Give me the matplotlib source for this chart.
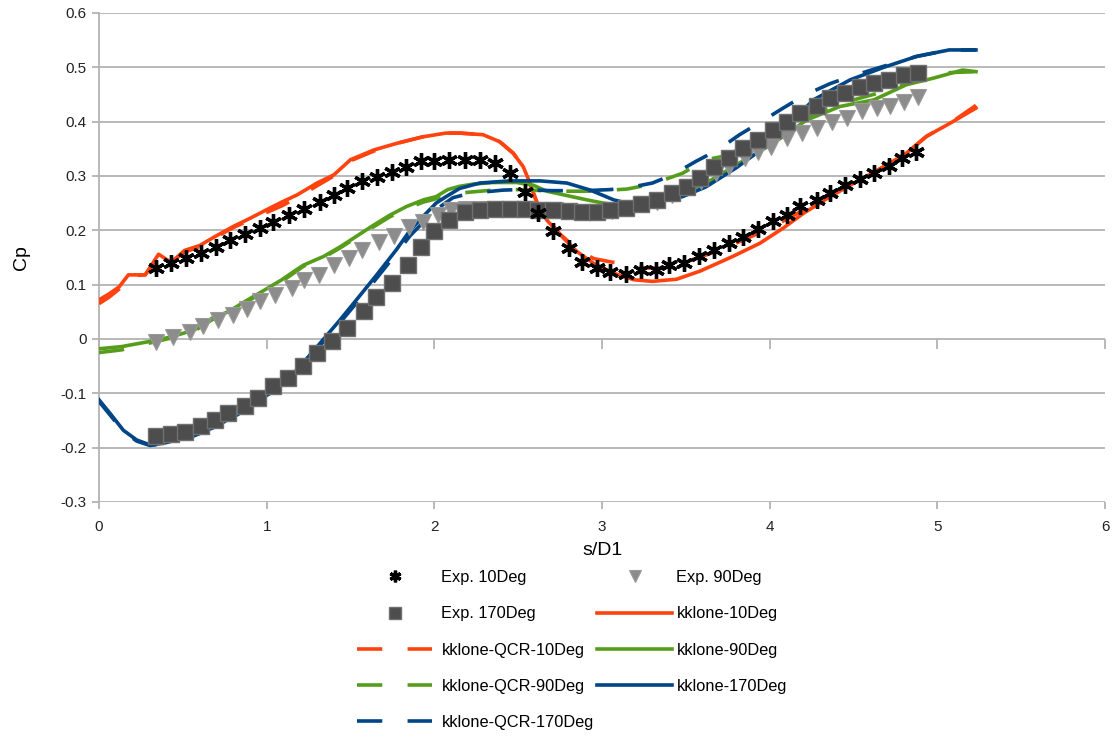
import matplotlib
matplotlib.use("Agg")
import matplotlib.pyplot as plt

plt.rcParams['font.family'] = ['Liberation Sans', 'DejaVu Sans']

# experiment, 10 deg
x_exp10 = [0.34, 0.43, 0.52, 0.61, 0.70, 0.78, 0.87, 0.96, 1.04, 1.13, 1.22, 1.32, 1.40, 1.48, 1.57,
           1.66, 1.75, 1.83, 1.92, 2.00, 2.09, 2.18, 2.27, 2.36, 2.45, 2.54, 2.62, 2.71, 2.80, 2.88,
           2.97, 3.05, 3.14, 3.23, 3.32, 3.40, 3.49, 3.58, 3.67, 3.76, 3.84, 3.93, 4.02, 4.10, 4.18,
           4.28, 4.36, 4.45, 4.54, 4.62, 4.71, 4.79, 4.875]
y_exp10 = [0.130, 0.139, 0.149, 0.158, 0.170, 0.182, 0.193, 0.204, 0.216, 0.228, 0.240, 0.253, 0.265, 0.277, 0.290,
           0.299, 0.308, 0.317, 0.327, 0.327, 0.330, 0.330, 0.330, 0.324, 0.305, 0.271, 0.231, 0.198, 0.167, 0.141,
           0.131, 0.124, 0.119, 0.127, 0.127, 0.136, 0.139, 0.152, 0.164, 0.176, 0.188, 0.203, 0.217, 0.229, 0.244,
           0.256, 0.268, 0.283, 0.294, 0.306, 0.318, 0.333, 0.345]

# experiment, 90 deg
x_exp90 = [0.34, 0.44, 0.54, 0.62, 0.71, 0.80, 0.88, 0.96, 1.05, 1.15, 1.22, 1.31, 1.40, 1.49, 1.57,
           1.67, 1.76, 1.85, 1.93, 2.02, 2.10, 2.19, 2.28, 2.37, 2.46, 2.54, 2.63, 2.72, 2.80, 2.89,
           2.98, 3.06, 3.15, 3.24, 3.33, 3.42, 3.51, 3.59, 3.68, 3.76, 3.85, 3.93, 4.01, 4.10, 4.19,
           4.28, 4.37, 4.46, 4.55, 4.64, 4.72, 4.80, 4.885]
y_exp90 = [-0.005, 0.003, 0.013, 0.023, 0.035, 0.044, 0.056, 0.069, 0.081, 0.093, 0.109, 0.118, 0.136, 0.149, 0.164,
           0.179, 0.190, 0.207, 0.216, 0.228, 0.237, 0.240, 0.240, 0.240, 0.240, 0.240, 0.238, 0.238, 0.236, 0.234,
           0.233, 0.236, 0.242, 0.248, 0.253, 0.265, 0.280, 0.290, 0.305, 0.317, 0.333, 0.345, 0.354, 0.370, 0.379,
           0.388, 0.400, 0.406, 0.419, 0.425, 0.429, 0.437, 0.446]

# experiment, 170 deg
x_exp170 = [0.34, 0.43, 0.51, 0.61, 0.69, 0.77, 0.87, 0.95, 1.04, 1.125, 1.215, 1.30, 1.39, 1.48, 1.58,
            1.65, 1.745, 1.845, 1.92, 2.00, 2.09, 2.18, 2.27, 2.36, 2.45, 2.54, 2.62, 2.71, 2.80, 2.88,
            2.97, 3.05, 3.14, 3.23, 3.325, 3.415, 3.505, 3.585, 3.67, 3.76, 3.84, 3.93, 4.02, 4.10, 4.18,
            4.28, 4.36, 4.45, 4.54, 4.62, 4.71, 4.80, 4.885]
y_exp170 = [-0.179, -0.175, -0.171, -0.161, -0.149, -0.137, -0.123, -0.109, -0.087, -0.071, -0.050, -0.025, -0.003, 0.021, 0.052,
            0.078, 0.103, 0.136, 0.170, 0.198, 0.219, 0.234, 0.238, 0.240, 0.240, 0.240, 0.238, 0.238, 0.236, 0.234,
            0.234, 0.237, 0.242, 0.248, 0.256, 0.268, 0.280, 0.296, 0.317, 0.333, 0.351, 0.366, 0.385, 0.400, 0.416,
            0.428, 0.443, 0.452, 0.463, 0.471, 0.477, 0.486, 0.490]

# kklone 10 deg
x_kk10 = [0, 0.06, 0.12, 0.175, 0.275, 0.355, 0.43, 0.51, 0.60, 0.70, 0.80, 0.90, 1.00, 1.09, 1.18,
          1.30, 1.40, 1.50, 1.64, 1.775, 1.93, 2.07, 2.15, 2.29, 2.39, 2.47, 2.53, 2.57, 2.61, 2.67,
          2.75, 2.85, 2.95, 3.07, 3.19, 3.30, 3.445, 3.585, 3.78, 3.94, 4.08, 4.20, 4.36, 4.52, 4.68,
          4.815, 4.935, 5.075, 5.23]
y_kk10 = [0.072, 0.083, 0.096, 0.118, 0.118, 0.156, 0.141, 0.163, 0.172, 0.19, 0.207, 0.222, 0.238, 0.252, 0.265,
          0.287, 0.302, 0.33, 0.348, 0.36, 0.372, 0.379, 0.379, 0.376, 0.363, 0.342, 0.317, 0.287, 0.253, 0.219,
          0.192, 0.161, 0.139, 0.121, 0.109, 0.106, 0.110, 0.125, 0.152, 0.176, 0.204, 0.231, 0.262, 0.29, 0.317,
          0.342, 0.373, 0.397, 0.425]

# kklone-QCR 10 deg
x_qcr10 = [0, 0.06, 0.12, 0.175, 0.275, 0.355, 0.43, 0.51, 0.60, 0.70, 0.80, 0.90, 1.00, 1.09, 1.18,
           1.30, 1.40, 1.50, 1.64, 1.775, 1.93, 2.07, 2.15, 2.29, 2.39, 2.47, 2.53, 2.57, 2.61, 2.67,
           2.75, 2.85, 2.95, 3.05, 3.15, 3.25, 3.35, 3.50, 3.70, 3.90, 4.05, 4.20, 4.40, 4.55, 4.68,
           4.815, 4.935, 5.075, 5.23]
y_qcr10 = [0.065, 0.077, 0.092, 0.116, 0.118, 0.152, 0.141, 0.16, 0.17, 0.188, 0.205, 0.219, 0.233, 0.245, 0.26,
           0.282, 0.30, 0.328, 0.346, 0.36, 0.372, 0.379, 0.379, 0.376, 0.363, 0.342, 0.317, 0.285, 0.252, 0.222,
           0.193, 0.165, 0.148, 0.142, 0.137, 0.131, 0.13, 0.142, 0.163, 0.19, 0.212, 0.237, 0.272, 0.295, 0.317,
           0.342, 0.373, 0.397, 0.43]

# kklone 90 deg
x_kk90 = [0, 0.135, 0.294, 0.433, 0.57, 0.672, 0.77, 0.87, 0.97, 1.09, 1.17, 1.22, 1.34, 1.44, 1.54,
          1.64, 1.735, 1.835, 1.934, 2.01, 2.08, 2.15, 2.23, 2.35, 2.49, 2.59, 2.67, 2.79, 2.91, 3.01,
          3.09, 3.19, 3.30, 3.42, 3.62, 3.82, 4.02, 4.22, 4.42, 4.62, 4.815, 4.975, 5.15, 5.23]
y_kk90 = [-0.018, -0.014, -0.005, 0.004, 0.017, 0.038, 0.05, 0.069, 0.087, 0.109, 0.126, 0.136, 0.152, 0.17, 0.19,
          0.21, 0.228, 0.244, 0.256, 0.262, 0.275, 0.281, 0.285, 0.288, 0.288, 0.283, 0.272, 0.264, 0.256, 0.25,
          0.247, 0.25, 0.257, 0.262, 0.287, 0.324, 0.36, 0.403, 0.428, 0.44, 0.468, 0.48, 0.495, 0.492]

# kklone-QCR 90 deg
x_qcr90 = [0, 0.135, 0.294, 0.433, 0.57, 0.672, 0.77, 0.87, 0.97, 1.09, 1.17, 1.22, 1.34, 1.44, 1.54,
           1.64, 1.735, 1.835, 1.934, 2.01, 2.1, 2.2, 2.35, 2.5, 2.65, 2.8, 2.9, 3.05, 3.15, 3.25,
           3.37, 3.48, 3.62, 3.72, 3.9, 4.1, 4.3, 4.5, 4.7, 4.9, 5.05, 5.23]
y_qcr90 = [-0.025, -0.02, -0.008, 0.002, 0.015, 0.035, 0.048, 0.066, 0.085, 0.106, 0.123, 0.134, 0.15, 0.168, 0.188,
           0.207, 0.225, 0.24, 0.252, 0.258, 0.265, 0.27, 0.274, 0.275, 0.273, 0.272, 0.272, 0.274, 0.276, 0.282,
           0.293, 0.305, 0.33, 0.336, 0.36, 0.39, 0.42, 0.44, 0.457, 0.478, 0.49, 0.492]

# kklone 170 deg
x_kk170 = [0, 0.066, 0.145, 0.225, 0.304, 0.383, 0.543, 0.70, 0.86, 1.02, 1.18, 1.318, 1.437, 1.556, 1.656,
           1.775, 1.855, 1.934, 2.01, 2.07, 2.15, 2.27, 2.45, 2.63, 2.79, 2.93, 3.07, 3.19, 3.345, 3.48,
           3.62, 3.8, 4.0, 4.1, 4.26, 4.48, 4.68, 4.875, 5.07, 5.23]
y_kk170 = [-0.112, -0.137, -0.168, -0.186, -0.195, -0.192, -0.18, -0.161, -0.131, -0.1, -0.057, -0.008, 0.035, 0.08, 0.118,
           0.165, 0.2, 0.226, 0.25, 0.262, 0.277, 0.287, 0.291, 0.291, 0.287, 0.274, 0.256, 0.247, 0.253, 0.262,
           0.28, 0.315, 0.36, 0.39, 0.44, 0.477, 0.50, 0.52, 0.532, 0.532]

# kklone-QCR 170 deg
x_qcr170 = [0, 0.066, 0.145, 0.225, 0.304, 0.383, 0.543, 0.70, 0.86, 1.02, 1.18, 1.318, 1.437, 1.556, 1.656,
            1.775, 1.855, 1.934, 2.01, 2.11, 2.21, 2.41, 2.51, 2.7, 2.9, 3.05, 3.15, 3.30, 3.42, 3.56,
            3.69, 3.82, 3.95, 4.08, 4.21, 4.36, 4.48, 4.68, 4.875, 5.07, 5.23]
y_qcr170 = [-0.115, -0.14, -0.17, -0.188, -0.196, -0.193, -0.181, -0.162, -0.133, -0.102, -0.06, -0.012, 0.03, 0.074, 0.112,
            0.158, 0.19, 0.215, 0.238, 0.26, 0.268, 0.274, 0.275, 0.273, 0.273, 0.275, 0.278, 0.287, 0.302, 0.327,
            0.348, 0.376, 0.40, 0.425, 0.449, 0.47, 0.483, 0.502, 0.52, 0.532, 0.532]

ORANGE = '#ff420e'
GREEN = '#579d1c'
BLUE = '#004586'
GRID = '#b3b3b3'
dash = (0, (7, 7))
lw = 2.6

fig = plt.figure(figsize=(11.14, 7.38), dpi=100)
ax = fig.add_axes([0.0889, 0.3198, 0.9031, 0.6626])

# simulations
l_kk10, = ax.plot(x_kk10, y_kk10, color=ORANGE, lw=lw, label='kklone-10Deg', zorder=3)
l_q10, = ax.plot(x_qcr10, y_qcr10, color=ORANGE, lw=lw, ls=dash, label='kklone-QCR-10Deg', zorder=3)
l_kk90, = ax.plot(x_kk90, y_kk90, color=GREEN, lw=lw, label='kklone-90Deg', zorder=3)
l_q90, = ax.plot(x_qcr90, y_qcr90, color=GREEN, lw=lw, ls=dash, label='kklone-QCR-90Deg', zorder=3)
l_kk170, = ax.plot(x_kk170, y_kk170, color=BLUE, lw=lw, label='kklone-170Deg', zorder=3)
l_q170, = ax.plot(x_qcr170, y_qcr170, color=BLUE, lw=lw, ls=dash, label='kklone-QCR-170Deg', zorder=3)

# experiments
m10, = ax.plot(x_exp10, y_exp10, ls='none', marker=(6, 2, 0), ms=12, mew=2.4,
               color='black', label='Exp. 10Deg', zorder=5)
m90, = ax.plot(x_exp90, y_exp90, ls='none', marker='v', ms=12, mfc='#8c8c8c', mec='#9a9a9a',
               mew=0.8, label='Exp. 90Deg', zorder=4)
m170, = ax.plot(x_exp170, y_exp170, ls='none', marker='s', ms=11.5, mfc='#4d4d4d', mec='#707070',
                mew=1, label='Exp. 170Deg', zorder=4)

ax.set_xlim(0, 6)
ax.set_ylim(-0.3, 0.6)
ax.set_xticks(range(0, 7))
ax.set_yticks([-0.3, -0.2, -0.1, 0, 0.1, 0.2, 0.3, 0.4, 0.5, 0.6])
ax.set_yticklabels(['-0.3', '-0.2', '-0.1', '0', '0.1', '0.2', '0.3', '0.4', '0.5', '0.6'])
ax.grid(axis='y', color=GRID, lw=1.3)
ax.set_axisbelow(True)
for s in ['top', 'right', 'bottom']:
    ax.spines[s].set_visible(False)
ax.spines['left'].set_color(GRID)
ax.spines['left'].set_linewidth(1.3)
ax.tick_params(axis='y', length=5, width=1.3, color=GRID, labelsize=11, labelcolor='#222222', pad=4)
ax.tick_params(axis='x', length=5, width=1.3, color=GRID, labelsize=11, labelcolor='#222222', pad=8)

# tick marks on the zero line
sec = ax.secondary_xaxis(1 / 3)
sec.set_xticks(range(0, 7))
sec.tick_params(length=7, width=1.3, color=GRID, labelbottom=False, labeltop=False)
sec.spines['bottom'].set_visible(False)
sec.spines['top'].set_visible(False)

ax.set_xlabel('s/D1', fontsize=14, labelpad=6)
ax.set_ylabel('Cp', fontsize=14, labelpad=22)

leg_kw = dict(frameon=False, fontsize=11.8, handlelength=4.6, labelspacing=1.3,
              borderpad=0, borderaxespad=0, markerscale=0.7)
fig.legend(handles=[m10, m170, l_q10, l_q90, l_q170], loc='upper left',
           bbox_to_anchor=(357 / 1114, 1 - 570 / 738), handletextpad=0.55, **leg_kw)
fig.legend(handles=[m90, l_kk10, l_kk90, l_kk170], loc='upper left',
           bbox_to_anchor=(597 / 1114, 1 - 570 / 738), handletextpad=0.25, **leg_kw)

fig.savefig('out.png', dpi=100)
